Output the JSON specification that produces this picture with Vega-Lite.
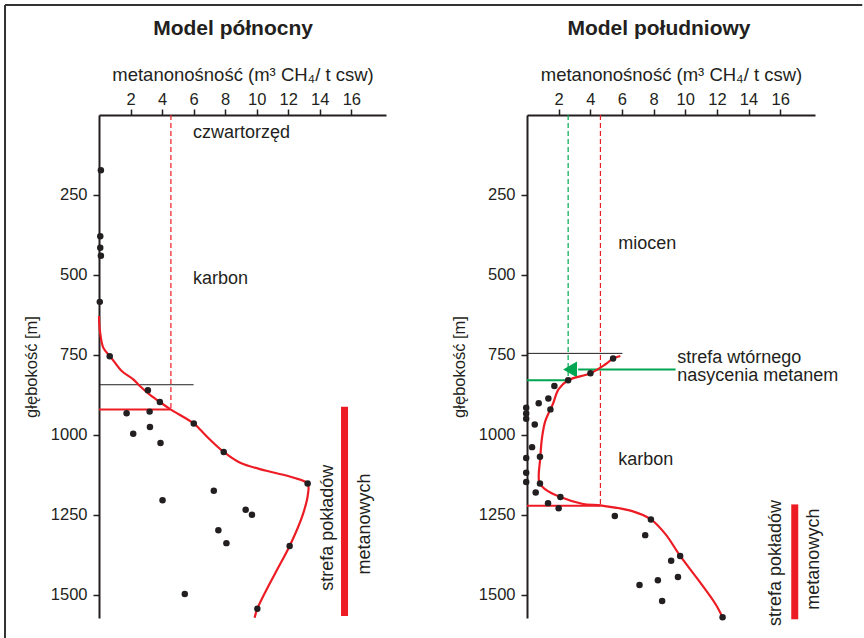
{
  "$schema": "https://vega.github.io/schema/vega-lite/v6.json",
  "padding": {"left": 4, "top": 3, "right": 0, "bottom": 0},
  "autosize": {"type": "pad"},
  "spacing": 141,
  "bounds": "flush",
  "config": {
    "view": {"stroke": null},
    "font": "Liberation Sans",
    "axis": {
      "grid": false,
      "domainColor": "#231f20",
      "domainWidth": 2,
      "tickColor": "#231f20",
      "tickWidth": 1.5,
      "tickSize": 6,
      "labelColor": "#231f20",
      "titleColor": "#231f20",
      "labelFont": "Liberation Sans",
      "titleFont": "Liberation Sans",
      "labelFontSize": 16.5,
      "titleFontWeight": "normal",
      "labelFlush": false,
      "labelOverlap": false
    }
  },
  "datasets": {
    "frameV": [{"x": -5.96, "d": -344, "d2": 1640}],
    "frameH": [{"x": -5.96, "x2": 48.4, "d": -344}],
    "n_title": [{"t": "Model północny", "x": 8.5, "d": -250}],
    "s_title": [{"t": "Model południowy", "x": 8.34, "d": -250}],
    "n_dash": [{"x": 4.56, "d": 0, "d2": 920}],
    "n_black": [{"x": 0, "x2": 6.0, "d": 843}],
    "n_redh": [{"x": 0, "x2": 4.5, "d": 920}],
    "n_bar": [{"x": 15.57, "d": 912, "d2": 1566}],
    "n_curve": [
      {"x": 0, "d": 628}, {"x": 0.06, "d": 675}, {"x": 0.27, "d": 727}, {"x": 0.68, "d": 753},
      {"x": 1.01, "d": 774}, {"x": 1.44, "d": 800}, {"x": 2.17, "d": 826}, {"x": 2.59, "d": 847},
      {"x": 3.2, "d": 873}, {"x": 3.86, "d": 897}, {"x": 4.54, "d": 920}, {"x": 6.01, "d": 964},
      {"x": 6.39, "d": 982}, {"x": 7.03, "d": 1014}, {"x": 7.91, "d": 1053}, {"x": 8.92, "d": 1086},
      {"x": 10.61, "d": 1112}, {"x": 12.3, "d": 1133}, {"x": 13.23, "d": 1152}, {"x": 13.25, "d": 1185},
      {"x": 12.93, "d": 1248}, {"x": 12.09, "d": 1347}, {"x": 11.25, "d": 1425}, {"x": 10.04, "d": 1543},
      {"x": 9.87, "d": 1571}
    ],
    "n_points": [
      {"x": 0.12, "d": 173}, {"x": 0.08, "d": 379}, {"x": 0.08, "d": 415}, {"x": 0.12, "d": 440},
      {"x": 0.05, "d": 584}, {"x": 0.68, "d": 754}, {"x": 3.1, "d": 860}, {"x": 3.86, "d": 897},
      {"x": 1.75, "d": 932}, {"x": 3.21, "d": 927}, {"x": 6.01, "d": 964}, {"x": 2.17, "d": 996},
      {"x": 3.23, "d": 975}, {"x": 3.9, "d": 1025}, {"x": 7.91, "d": 1053}, {"x": 13.23, "d": 1152},
      {"x": 7.28, "d": 1174}, {"x": 4.03, "d": 1204}, {"x": 9.3, "d": 1234}, {"x": 9.7, "d": 1249},
      {"x": 7.57, "d": 1298}, {"x": 8.08, "d": 1338}, {"x": 12.09, "d": 1347}, {"x": 5.44, "d": 1497},
      {"x": 10.04, "d": 1543}
    ],
    "n_text": [
      {"t": "czwartorzęd", "x": 5.96, "d": 71},
      {"t": "karbon", "x": 5.96, "d": 527}
    ],
    "n_vtext": [
      {"t": "strefa pokładów", "x": 14.52, "d": 1290},
      {"t": "metanowych", "x": 16.87, "d": 1278}
    ],
    "s_dashr": [{"x": 4.64, "d": 0, "d2": 1221}],
    "s_dashg": [{"x": 2.6, "d": 0, "d2": 829}],
    "s_black": [{"x": 0, "x2": 6.03, "d": 745}],
    "s_greenh": [{"x": 0, "x2": 2.53, "d": 829}],
    "s_redh": [{"x": 0, "x2": 4.64, "d": 1221}],
    "s_arrow": [{"x": 3.23, "x2": 9.39, "d": 795}],
    "s_head": [{"x": 2.72, "d": 795}],
    "s_bar": [{"x": 16.92, "d": 1217, "d2": 1576}],
    "s_curve": [
      {"x": 5.9, "d": 753}, {"x": 5.44, "d": 761}, {"x": 4.96, "d": 779}, {"x": 4.01, "d": 807},
      {"x": 2.6, "d": 829}, {"x": 2.0, "d": 857}, {"x": 1.63, "d": 904}, {"x": 1.16, "d": 956},
      {"x": 0.95, "d": 1008}, {"x": 0.84, "d": 1071}, {"x": 0.78, "d": 1149}, {"x": 1.16, "d": 1170},
      {"x": 2.11, "d": 1194}, {"x": 3.48, "d": 1215}, {"x": 4.75, "d": 1221}, {"x": 6.65, "d": 1238},
      {"x": 7.83, "d": 1264}, {"x": 8.75, "d": 1310}, {"x": 9.68, "d": 1378}, {"x": 10.87, "d": 1456},
      {"x": 11.92, "d": 1529}, {"x": 12.36, "d": 1570}
    ],
    "s_points": [
      {"x": 5.44, "d": 761}, {"x": 4.01, "d": 807}, {"x": 2.6, "d": 829}, {"x": 1.73, "d": 847},
      {"x": 1.35, "d": 886}, {"x": 0.74, "d": 901}, {"x": 1.48, "d": 920}, {"x": -0.05, "d": 915},
      {"x": -0.05, "d": 933}, {"x": -0.05, "d": 949}, {"x": 0.49, "d": 967}, {"x": 0.32, "d": 1038},
      {"x": -0.05, "d": 1072}, {"x": 0.82, "d": 1068}, {"x": -0.05, "d": 1118}, {"x": -0.05, "d": 1147},
      {"x": 0.82, "d": 1152}, {"x": 0.55, "d": 1180}, {"x": 2.11, "d": 1194}, {"x": 1.33, "d": 1213},
      {"x": 2.0, "d": 1229}, {"x": 5.55, "d": 1253}, {"x": 7.83, "d": 1264}, {"x": 7.47, "d": 1313},
      {"x": 9.68, "d": 1378}, {"x": 9.11, "d": 1393}, {"x": 9.54, "d": 1444}, {"x": 8.27, "d": 1454},
      {"x": 7.11, "d": 1469}, {"x": 8.54, "d": 1519}, {"x": 12.36, "d": 1570}
    ],
    "s_text": [
      {"t": "miocen", "x": 5.76, "d": 419},
      {"t": "karbon", "x": 5.76, "d": 1094},
      {"t": "strefa wtórnego", "x": 9.49, "d": 775},
      {"t": "nasycenia metanem", "x": 9.49, "d": 831}
    ],
    "s_vtext": [
      {"t": "strefa pokładów", "x": 15.72, "d": 1400},
      {"t": "metanowych", "x": 18.15, "d": 1388}
    ]
  },
  "hconcat": [
    {
      "width": 287,
      "height": 503,
      "encoding": {
        "x": {
          "field": "x", "type": "quantitative",
          "scale": {"domain": [0, 18.2], "nice": false, "zero": false},
          "axis": {"orient": "top", "values": [2, 4, 6, 8, 10, 12, 14, 16], "title": "metanonośność (m³ CH₄/ t csw)", "titleFontSize": 18.5, "titlePadding": 7, "labelPadding": 2}
        },
        "y": {
          "field": "d", "type": "quantitative",
          "scale": {"domain": [0, 1572], "nice": false, "zero": false, "reverse": true},
          "axis": {"orient": "left", "values": [250, 500, 750, 1000, 1250, 1500], "format": "d", "title": "głębokość [m]", "titleFontSize": 16.5, "titlePadding": 11, "labelPadding": 6}
        }
      },
      "layer": [
        {"data": {"name": "frameV"}, "mark": {"type": "rule", "color": "#333333", "strokeWidth": 2}, "encoding": {"y2": {"field": "d2"}}},
        {"data": {"name": "frameH"}, "mark": {"type": "rule", "color": "#333333", "strokeWidth": 2}, "encoding": {"x2": {"field": "x2"}}},
        {"data": {"name": "n_title"}, "mark": {"type": "text", "align": "center", "baseline": "alphabetic", "fontSize": 21, "fontWeight": "bold", "color": "#231f20"}, "encoding": {"text": {"field": "t"}}},
        {"data": {"name": "n_dash"}, "mark": {"type": "rule", "color": "#ed1c24", "strokeWidth": 1.2, "strokeDash": [5, 3]}, "encoding": {"y2": {"field": "d2"}}},
        {"data": {"name": "n_black"}, "mark": {"type": "rule", "color": "#231f20", "strokeWidth": 1}, "encoding": {"x2": {"field": "x2"}}},
        {"data": {"name": "n_redh"}, "mark": {"type": "rule", "color": "#ed1c24", "strokeWidth": 2}, "encoding": {"x2": {"field": "x2"}}},
        {"data": {"name": "n_bar"}, "mark": {"type": "rule", "color": "#ed1c24", "strokeWidth": 7}, "encoding": {"y2": {"field": "d2"}}},
        {"data": {"name": "n_curve"}, "mark": {"type": "line", "color": "#ed1c24", "strokeWidth": 2.2, "interpolate": "catmull-rom"}, "encoding": {"order": {"field": "d", "type": "quantitative"}}},
        {"data": {"name": "n_points"}, "mark": {"type": "circle", "color": "#231f20", "opacity": 1, "size": 42}},
        {"data": {"name": "n_text"}, "mark": {"type": "text", "align": "left", "baseline": "alphabetic", "fontSize": 18, "color": "#231f20"}, "encoding": {"text": {"field": "t"}}},
        {"data": {"name": "n_vtext"}, "mark": {"type": "text", "align": "center", "baseline": "middle", "angle": 270, "fontSize": 18, "color": "#231f20"}, "encoding": {"text": {"field": "t"}}}
      ]
    },
    {
      "width": 288,
      "height": 503,
      "encoding": {
        "x": {
          "field": "x", "type": "quantitative",
          "scale": {"domain": [0, 18.2], "nice": false, "zero": false},
          "axis": {"orient": "top", "values": [2, 4, 6, 8, 10, 12, 14, 16], "title": "metanonośność (m³ CH₄/ t csw)", "titleFontSize": 18.5, "titlePadding": 7, "labelPadding": 2}
        },
        "y": {
          "field": "d", "type": "quantitative",
          "scale": {"domain": [0, 1572], "nice": false, "zero": false, "reverse": true},
          "axis": {"orient": "left", "values": [250, 500, 750, 1000, 1250, 1500], "format": "d", "title": "głębokość [m]", "titleFontSize": 16.5, "titlePadding": 11, "labelPadding": 6}
        }
      },
      "layer": [
        {"data": {"name": "s_title"}, "mark": {"type": "text", "align": "center", "baseline": "alphabetic", "fontSize": 21, "fontWeight": "bold", "color": "#231f20"}, "encoding": {"text": {"field": "t"}}},
        {"data": {"name": "s_dashg"}, "mark": {"type": "rule", "color": "#00a651", "strokeWidth": 1.2, "strokeDash": [5, 3]}, "encoding": {"y2": {"field": "d2"}}},
        {"data": {"name": "s_dashr"}, "mark": {"type": "rule", "color": "#ed1c24", "strokeWidth": 1.2, "strokeDash": [5, 3]}, "encoding": {"y2": {"field": "d2"}}},
        {"data": {"name": "s_black"}, "mark": {"type": "rule", "color": "#231f20", "strokeWidth": 1}, "encoding": {"x2": {"field": "x2"}}},
        {"data": {"name": "s_greenh"}, "mark": {"type": "rule", "color": "#00a651", "strokeWidth": 2}, "encoding": {"x2": {"field": "x2"}}},
        {"data": {"name": "s_redh"}, "mark": {"type": "rule", "color": "#ed1c24", "strokeWidth": 2}, "encoding": {"x2": {"field": "x2"}}},
        {"data": {"name": "s_arrow"}, "mark": {"type": "rule", "color": "#00a651", "strokeWidth": 2}, "encoding": {"x2": {"field": "x2"}}},
        {"data": {"name": "s_head"}, "mark": {"type": "point", "shape": "triangle-left", "filled": true, "color": "#00a651", "opacity": 1, "size": 256}},
        {"data": {"name": "s_bar"}, "mark": {"type": "rule", "color": "#ed1c24", "strokeWidth": 7}, "encoding": {"y2": {"field": "d2"}}},
        {"data": {"name": "s_curve"}, "mark": {"type": "line", "color": "#ed1c24", "strokeWidth": 2.2, "interpolate": "catmull-rom"}, "encoding": {"order": {"field": "d", "type": "quantitative"}}},
        {"data": {"name": "s_points"}, "mark": {"type": "circle", "color": "#231f20", "opacity": 1, "size": 42}},
        {"data": {"name": "s_text"}, "mark": {"type": "text", "align": "left", "baseline": "alphabetic", "fontSize": 18, "color": "#231f20"}, "encoding": {"text": {"field": "t"}}},
        {"data": {"name": "s_vtext"}, "mark": {"type": "text", "align": "center", "baseline": "middle", "angle": 270, "fontSize": 18, "color": "#231f20"}, "encoding": {"text": {"field": "t"}}}
      ]
    }
  ]
}
